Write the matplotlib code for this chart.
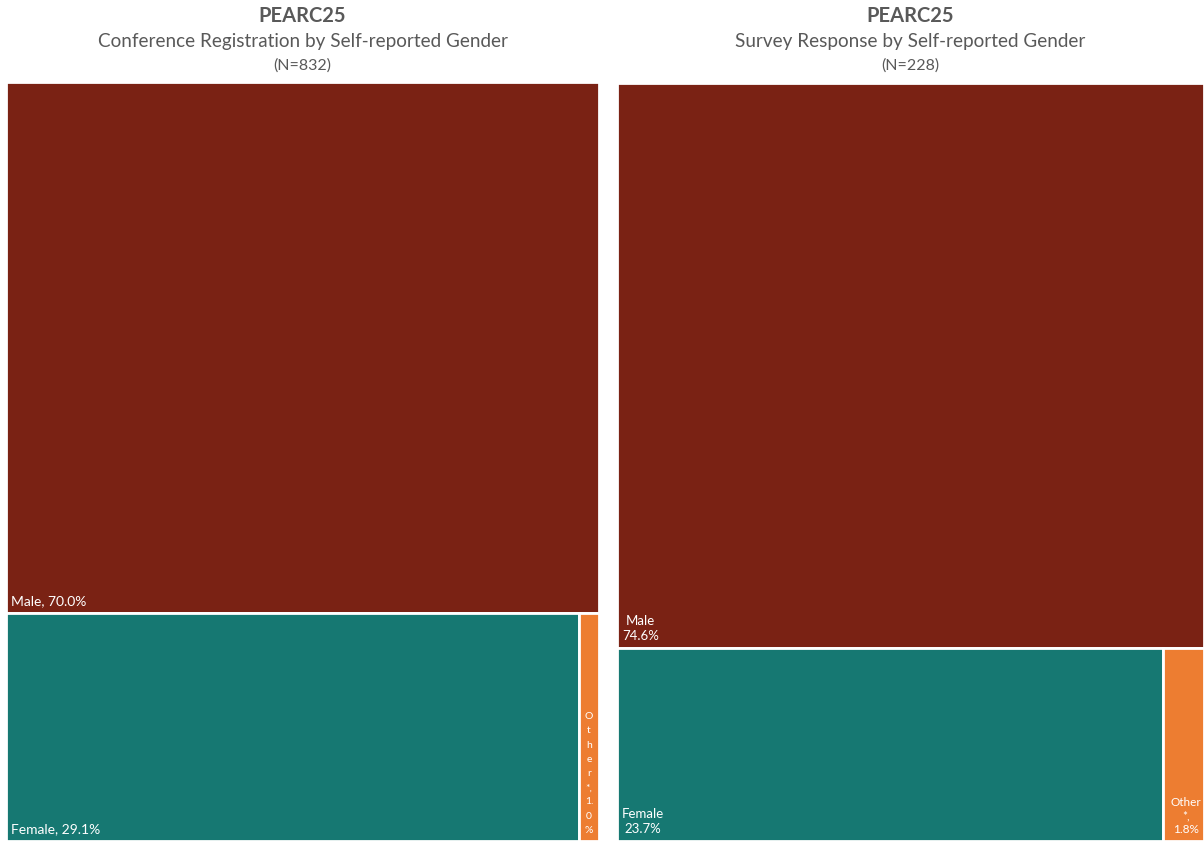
import matplotlib.pyplot as plt
from matplotlib.patches import Rectangle

plt.rcParams['font.family'] = ['Lato', 'DejaVu Sans']

# data
genders = ['Male', 'Female', 'Other*']
reg_pct = [70.0, 29.1, 1.0]
svy_pct = [74.6, 23.7, 1.8]
colors = ['#7A2214', '#167872', '#ED7D31']

reg_labels = ['Male, 70.0%', 'Female, 29.1%', 'O\nt\nh\ne\nr\n*,\n1.\n0\n%']
svy_labels = ['Male\n74.6%', 'Female\n23.7%', 'Other\n*,\n1.8%']

title = 'PEARC25'
subtitles = ['Conference Registration by Self-reported Gender',
             'Survey Response by Self-reported Gender']
n_labels = ['(N=832)', '(N=228)']

W, H = 1204, 842
fig = plt.figure(figsize=(W / 100, H / 100), dpi=100)
fig.patch.set_facecolor('white')

# axes boxes in pixels (left, top, right, bottom)
boxes = [(6, 82, 599, 841), (617, 83, 1204, 841)]


def treemap(ax, pct):
    total = sum(pct)
    top = pct[0] / total          # male share -> height of top block
    rest = pct[1] + pct[2]
    split = pct[1] / rest          # female share of bottom row
    rects = [
        (0, 1 - top, 1, top),
        (0, 0, split, 1 - top),
        (split, 0, 1 - split, 1 - top),
    ]
    for (x, y, w, h), c in zip(rects, colors):
        ax.add_patch(Rectangle((x, y), w, h, facecolor=c, edgecolor='white', lw=2))
    return rects


for i, (pct, labels) in enumerate([(reg_pct, reg_labels), (svy_pct, svy_labels)]):
    l, t, r, b = boxes[i]
    ax = fig.add_axes([l / W, 1 - b / H, (r - l) / W, (b - t) / H])
    ax.set_xlim(0, 1)
    ax.set_ylim(0, 1)
    ax.axis('off')
    rects = treemap(ax, pct)
    pw = (r - l)
    ph = (b - t)
    dx = 5 / pw
    dy = 6 / ph
    # male and female labels at bottom-left
    for j in range(2):
        x, y, w, h = rects[j]
        ax.text(x + dx, y + dy, labels[j], color='white', fontsize=10 if i == 0 else 9.5,
                ha='left', va='bottom', linespacing=1.25, multialignment='center')
    x, y, w, h = rects[2]
    if i == 0:
        ax.text(x + w / 2, y + dy, labels[2], color='white', fontsize=7.5,
                ha='center', va='bottom', linespacing=1.75)
    else:
        ax.text(x + w / 2 + 3 / pw, y + dy, labels[2], color='white', fontsize=8.5,
                ha='center', va='bottom', linespacing=1.25, clip_on=False)

    cx = (l + r) / 2 / W
    fig.text(cx, 1 - 16 / H, title, ha='center', va='center', fontsize=14.5,
             fontweight='bold', color='#595959')
    fig.text(cx, 1 - 42 / H, subtitles[i], ha='center', va='center', fontsize=13.6,
             color='#595959')
    fig.text(cx, 1 - 66 / H, n_labels[i], ha='center', va='center', fontsize=11.5,
             color='#595959')

fig.savefig('out.png', dpi=100, facecolor='white')
